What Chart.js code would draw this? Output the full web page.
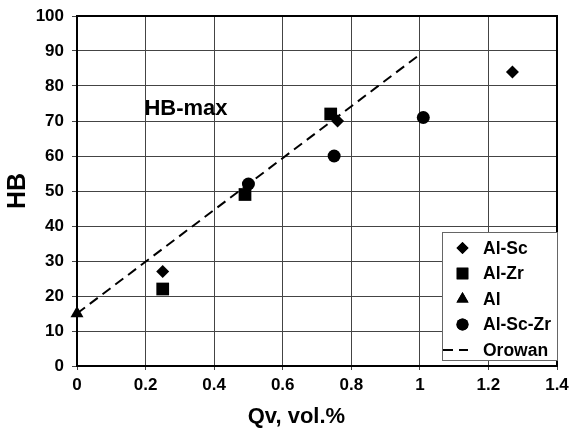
<!DOCTYPE html>
<html>
<head>
<meta charset="utf-8">
<script src="https://cdn.jsdelivr.net/npm/chart.js@4/dist/chart.umd.min.js"></script>
<style>
  html, body { margin: 0; padding: 0; background: #fff; }
  #wrap { width: 571px; height: 430px; }
</style>
</head>
<body>
<div id="wrap"><canvas id="hb-chart"></canvas></div>
<script>
// Твёрдость сплавов в зависимости от объёмной доли частиц
const alScQv = [0.25, 0.76, 1.27];
const alScHB = [27, 70, 84];
const alZrQv = [0.25, 0.49, 0.74];
const alZrHB = [22, 49, 72];
const alQv = [0];
const alHB = [15];
const alScZrQv = [0.5, 0.75, 1.01];
const alScZrHB = [52, 60, 71];
const orowanQv = [0, 1.0];
const orowanHB = [15, 89];

const seriesLabels = ['Al-Sc', 'Al-Zr', 'Al', 'Al-Sc-Zr', 'Orowan'];
const xTicks = [0, 0.2, 0.4, 0.6, 0.8, 1, 1.2, 1.4];
const yTicks = [0, 10, 20, 30, 40, 50, 60, 70, 80, 90, 100];

const FONT = "'Liberation Sans', Arial, sans-serif";

const toPoints = (xs, ys) => xs.map((x, i) => ({ x, y: ys[i] }));

// Рамка вокруг поля диаграммы
const chartAreaBorder = {
  id: 'chartAreaBorder',
  afterDatasetsDraw(chart) {
    const { ctx, chartArea: { left, top, width, height } } = chart;
    ctx.save();
    ctx.strokeStyle = '#000';
    ctx.lineWidth = 2;
    ctx.strokeRect(left, top, width, height);
    ctx.restore();
  },
};

// Подписи: "HB-max" в координатах данных и название оси X
const textLabels = {
  id: 'textLabels',
  afterDatasetsDraw(chart) {
    const { ctx, scales: { x, y } } = chart;
    ctx.save();
    ctx.fillStyle = '#000';
    ctx.textAlign = 'center';
    ctx.textBaseline = 'middle';
    ctx.font = `bold 22px ${FONT}`;
    ctx.fillText('HB-max', x.getPixelForValue(0.318), y.getPixelForValue(73.4));
    ctx.textBaseline = 'alphabetic';
    ctx.fillText('Qv, vol.%', x.getPixelForValue(0.64), 423);
    ctx.restore();
  },
};

// Легенда внутри поля диаграммы, в правом нижнем углу
const insideLegend = {
  id: 'insideLegend',
  afterDraw(chart) {
    const { ctx, chartArea } = chart;
    const boxW = 115, boxH = 128;
    const bx = chartArea.right - boxW;
    const by = chartArea.bottom - boxH - 6;
    ctx.save();
    ctx.fillStyle = '#fff';
    ctx.fillRect(bx, by, boxW, boxH);
    ctx.strokeStyle = '#666';
    ctx.lineWidth = 1;
    ctx.strokeRect(bx + 0.5, by + 0.5, boxW, boxH);

    ctx.font = `bold 17.5px ${FONT}`;
    ctx.textBaseline = 'middle';
    ctx.textAlign = 'left';
    chart.data.datasets.forEach((ds, i) => {
      const cy = by + 16 + i * 25.5;
      const mx = bx + 20.5;
      ctx.fillStyle = '#000';
      ctx.strokeStyle = '#000';
      if (ds.showLine) {
        ctx.lineWidth = 2;
        ctx.setLineDash([10, 6]);
        ctx.beginPath();
        ctx.moveTo(bx + 1, cy);
        ctx.lineTo(bx + 26, cy);
        ctx.stroke();
        ctx.setLineDash([]);
      } else {
        Chart.helpers.drawPoint(ctx, {
          pointStyle: ds.pointStyle,
          radius: ds.legendRadius,
          borderWidth: 0,
        }, mx, cy);
        ctx.fill();
      }
      ctx.fillText(ds.label, bx + 41, cy + 1);
    });
    ctx.restore();
  },
};

const data = {
  datasets: [
    {
      label: seriesLabels[0],
      data: toPoints(alScQv, alScHB),
      pointStyle: 'rectRot',
      pointRadius: 6.5,
      legendRadius: 6,
    },
    {
      label: seriesLabels[1],
      data: toPoints(alZrQv, alZrHB),
      pointStyle: 'rect',
      pointRadius: 9,
      legendRadius: 8.2,
    },
    {
      label: seriesLabels[2],
      data: toPoints(alQv, alHB),
      pointStyle: 'triangle',
      pointRadius: 7.5,
      legendRadius: 7,
    },
    {
      label: seriesLabels[3],
      data: toPoints(alScZrQv, alScZrHB),
      pointStyle: 'circle',
      pointRadius: 6.5,
      legendRadius: 6,
    },
    {
      label: seriesLabels[4],
      data: toPoints(orowanQv, orowanHB),
      showLine: true,
      borderColor: '#000',
      borderWidth: 2,
      borderDash: [10, 6],
      pointRadius: 0,
      order: 1,
    },
  ],
};
data.datasets.forEach((ds) => {
  ds.backgroundColor = '#000';
  ds.borderColor = '#000';
  ds.clip = false;
  if (!ds.showLine) ds.borderWidth = 0;
});

const tickFont = { family: FONT, weight: 'bold', size: 17 };

const chartConfig = {
  type: 'scatter',
  data: data,
  options: {
    responsive: true,
    maintainAspectRatio: false,
    animation: false,
    layout: { padding: { left: 0, top: 16, right: 14, bottom: 0 } },
    plugins: {
      legend: { display: false },
      tooltip: { enabled: false },
    },
    scales: {
      x: {
        type: 'linear',
        min: 0,
        max: 1.4,
        afterBuildTicks: (scale) => { scale.ticks = xTicks.map((v) => ({ value: v })); },
        // фиксированная высота оси и без выступов подписей за края поля
        afterFit: (scale) => {
          scale.height = 64;
          scale.paddingLeft = 0;
          scale.paddingRight = 0;
        },
        ticks: {
          color: '#000',
          font: tickFont,
          padding: 5,
          maxRotation: 0,
          callback: (value) => String(parseFloat(value.toFixed(1))),
        },
        grid: { color: '#444', lineWidth: 1, tickLength: 4 },
        border: { color: '#000', width: 2 },
      },
      y: {
        type: 'linear',
        min: 0,
        max: 100,
        afterBuildTicks: (scale) => { scale.ticks = yTicks.map((v) => ({ value: v })); },
        afterFit: (scale) => {
          scale.width = 77;
          scale.paddingTop = 0;
          scale.paddingBottom = 0;
        },
        ticks: {
          color: '#000',
          font: tickFont,
          padding: 8,
        },
        grid: { color: '#444', lineWidth: 1, tickLength: 5 },
        border: { color: '#000', width: 2 },
        title: {
          display: true,
          text: 'HB',
          color: '#000',
          font: { family: FONT, weight: 'bold', size: 25 },
          padding: { top: 3, bottom: 0 },
        },
      },
    },
  },
  plugins: [chartAreaBorder, textLabels, insideLegend],
};

try {
  new Chart(document.getElementById('hb-chart'), chartConfig);
} catch (error) {
  console.error('Chart init failed:', error);
}
</script>
</body>
</html>
